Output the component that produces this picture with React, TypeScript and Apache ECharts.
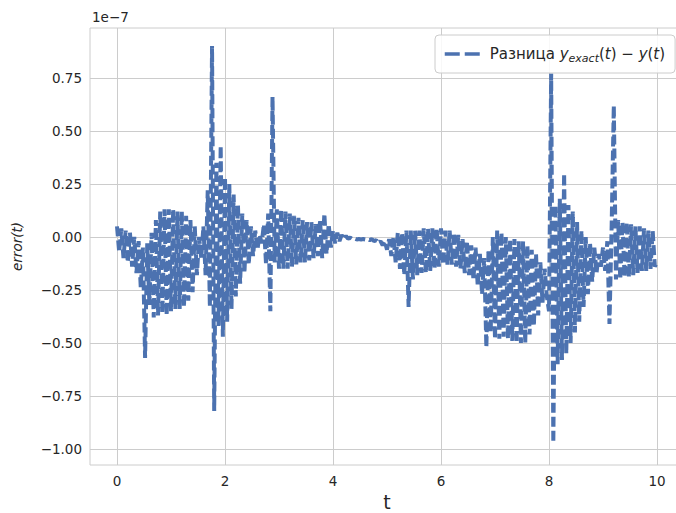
import { useEffect, useRef } from "react";
import * as echarts from "echarts";

// Sampling of t: first sample and step between samples
const T_START = 0;
const T_STEP = 0.04;

// error(t) = y_exact(t) - y(t), in units of 1e-7, ten samples per block of 0.4 in t
const errorFrom0_0 = [0.05, -0.07, 0.04, -0.1, 0.03, -0.12, 0.02, -0.14, 0.0, -0.17];
const errorFrom0_4 = [-0.02, -0.24, -0.05, -0.57, -0.03, -0.32, 0.02, -0.38, 0.08, -0.37];
const errorFrom0_8 = [0.12, -0.36, 0.13, -0.37, 0.13, -0.35, 0.13, -0.34, 0.12, -0.34];
const errorFrom1_2 = [0.12, -0.33, 0.1, -0.3, 0.08, -0.26, 0.05, -0.18, 0.0, -0.1];
const errorFrom1_6 = [0.05, -0.18, 0.22, -0.33, 0.9, -0.82, 0.35, -0.42, 0.43, -0.47];
const errorFrom2_0 = [0.28, -0.4, 0.25, -0.34, 0.2, -0.28, 0.15, -0.22, 0.11, -0.17];
const errorFrom2_4 = [0.08, -0.13, 0.05, -0.09, 0.03, -0.06, 0.01, -0.03, 0.06, -0.13];
const errorFrom2_8 = [0.11, -0.35, 0.66, -0.12, 0.13, -0.15, 0.13, -0.15, 0.12, -0.15];
const errorFrom3_2 = [0.11, -0.14, 0.1, -0.13, 0.09, -0.12, 0.08, -0.12, 0.07, -0.11];
const errorFrom3_6 = [0.07, -0.1, 0.06, -0.09, 0.08, -0.1, 0.11, -0.08, 0.06, -0.05];
const errorFrom4_0 = [0.03, -0.03, 0.02, -0.02, 0.01, -0.01, 0.005, -0.008, -0.003, -0.01];
const errorFrom4_4 = [-0.008, -0.012, -0.01, -0.012, -0.01, -0.012, -0.01, -0.015, -0.01, -0.02];
const errorFrom4_8 = [-0.015, -0.03, -0.02, -0.04, -0.02, -0.06, -0.01, -0.09, 0.0, -0.12];
const errorFrom5_2 = [0.02, -0.15, 0.02, -0.18, 0.03, -0.33, 0.03, -0.2, 0.03, -0.18];
const errorFrom5_6 = [0.03, -0.17, 0.04, -0.17, 0.04, -0.16, 0.04, -0.15, 0.04, -0.14];
const errorFrom6_0 = [0.04, -0.13, 0.03, -0.13, 0.03, -0.13, 0.02, -0.14, 0.01, -0.15];
const errorFrom6_4 = [-0.01, -0.17, -0.02, -0.18, -0.04, -0.2, -0.05, -0.23, -0.08, -0.27];
const errorFrom6_8 = [-0.1, -0.52, -0.06, -0.45, 0.0, -0.48, 0.03, -0.48, 0.02, -0.47];
const errorFrom7_2 = [0.0, -0.48, -0.01, -0.49, -0.01, -0.5, -0.02, -0.5, -0.02, -0.5];
const errorFrom7_6 = [-0.04, -0.46, -0.06, -0.42, -0.08, -0.37, -0.12, -0.31, -0.15, -0.28];
const errorFrom8_0 = [-0.35, 0.77, -0.97, 0.15, -0.6, 0.18, -0.58, 0.3, -0.55, 0.15];
const errorFrom8_4 = [-0.5, 0.12, -0.45, 0.07, -0.4, 0.03, -0.33, 0.0, -0.27, -0.03];
const errorFrom8_8 = [-0.21, -0.05, -0.17, -0.08, -0.14, -0.05, -0.16, -0.02, -0.41, 0.05];
const errorFrom9_2 = [0.62, -0.2, 0.08, -0.2, 0.07, -0.19, 0.07, -0.19, 0.06, -0.18];
const errorFrom9_6 = [0.05, -0.17, 0.05, -0.16, 0.04, -0.16, 0.03, -0.15, 0.03, -0.14];
const errorAt10 = [-0.12];

const errorValues = [
  ...errorFrom0_0, ...errorFrom0_4, ...errorFrom0_8, ...errorFrom1_2, ...errorFrom1_6,
  ...errorFrom2_0, ...errorFrom2_4, ...errorFrom2_8, ...errorFrom3_2, ...errorFrom3_6,
  ...errorFrom4_0, ...errorFrom4_4, ...errorFrom4_8, ...errorFrom5_2, ...errorFrom5_6,
  ...errorFrom6_0, ...errorFrom6_4, ...errorFrom6_8, ...errorFrom7_2, ...errorFrom7_6,
  ...errorFrom8_0, ...errorFrom8_4, ...errorFrom8_8, ...errorFrom9_2, ...errorFrom9_6,
  ...errorAt10,
];

const xTicks = [0, 2, 4, 6, 8, 10];
const yTicks = [-1, -0.75, -0.5, -0.25, 0, 0.25, 0.5, 0.75];
const OFFSET_TEXT = "1e\u22127";
const SERIES_NAME = "Разница y_exact(t) − y(t)";

const FONT = "DejaVu Sans";
const TEXT_COLOR = "#262626";
const GRID_COLOR = "#cccccc";
const LINE_COLOR = "#4c72b0";

// The axes run a few pixels past the right edge of the visible page
const VIEW_W = 676;
const VIEW_H = 513;
const CHART_W = 692;

const fmtMinus = (s: string) => s.replace("-", "\u2212");

export default function App() {
  const ref = useRef<HTMLDivElement>(null);

  useEffect(() => {
    if (!ref.current) return;
    const chart = echarts.init(ref.current, undefined, { renderer: "svg" });

    const data = errorValues.map((v, i) => [
      Number((T_START + i * T_STEP).toFixed(2)),
      v,
    ]);

    chart.setOption({
      animation: false,
      backgroundColor: "#ffffff",
      textStyle: { fontFamily: FONT },
      grid: {
        left: 90,
        right: CHART_W - 684,
        top: 28,
        bottom: 48,
        outerBoundsMode: "none",
        containLabel: false,
        show: true,
        borderColor: GRID_COLOR,
        borderWidth: 1,
        backgroundColor: "transparent",
      },
      xAxis: {
        type: "value",
        min: -0.5,
        max: 10.5,
        name: "t",
        nameLocation: "middle",
        nameGap: 22,
        nameTextStyle: {
          fontSize: 19,
          lineHeight: 17,
          color: TEXT_COLOR,
          fontFamily: FONT,
        },
        axisLine: { show: false },
        axisTick: { show: false, customValues: xTicks },
        axisLabel: {
          customValues: xTicks,
          color: TEXT_COLOR,
          fontSize: 13.5,
          fontFamily: FONT,
          margin: 9,
          formatter: (v: number) => fmtMinus(String(v)),
        },
        splitLine: { show: true, lineStyle: { color: GRID_COLOR, width: 1 } },
      },
      yAxis: {
        type: "value",
        min: -1.075,
        max: 0.985,
        name: "error(t)",
        nameLocation: "middle",
        nameRotate: 90,
        nameGap: 66,
        nameTextStyle: {
          fontSize: 13.5,
          fontStyle: "italic",
          color: TEXT_COLOR,
          fontFamily: FONT,
        },
        axisLine: { show: false },
        axisTick: { show: false, customValues: yTicks },
        axisLabel: {
          customValues: yTicks,
          color: TEXT_COLOR,
          fontSize: 13.5,
          fontFamily: FONT,
          margin: 8,
          formatter: (v: number) => fmtMinus(v.toFixed(2)),
        },
        splitLine: { show: true, lineStyle: { color: GRID_COLOR, width: 1 } },
      },
      legend: {
        left: 435,
        top: 35,
        padding: [9, 10, 9, 8],
        itemWidth: 40,
        itemHeight: 14,
        borderColor: GRID_COLOR,
        borderWidth: 1,
        borderRadius: 4,
        backgroundColor: "rgba(255,255,255,0.85)",
        data: [SERIES_NAME],
        itemStyle: { opacity: 0 },
        lineStyle: { type: [15, 5], width: 3.5, color: LINE_COLOR },
        formatter: () =>
          "Разница {i|y}{s|exact}({i|t}) \u2212 {i|y}({i|t})",
        textStyle: {
          fontSize: 15,
          color: TEXT_COLOR,
          fontFamily: FONT,
          lineHeight: 20,
          rich: {
            i: { fontSize: 15, fontStyle: "italic", color: TEXT_COLOR, fontFamily: FONT, lineHeight: 20 },
            s: {
              fontSize: 11,
              fontStyle: "italic",
              color: TEXT_COLOR,
              fontFamily: FONT,
              lineHeight: 12,
              verticalAlign: "bottom",
            },
          },
        },
      },
      graphic: [
        {
          type: "text",
          left: 92,
          top: 10,
          style: {
            text: OFFSET_TEXT,
            fontSize: 13.5,
            fontFamily: FONT,
            fill: TEXT_COLOR,
          },
        },
      ],
      series: [
        {
          name: SERIES_NAME,
          type: "line",
          data,
          symbol: "none",
          showSymbol: false,
          clip: true,
          color: LINE_COLOR,
          lineStyle: { color: LINE_COLOR, width: 4, type: [10, 4] },
          emphasis: { disabled: true },
        },
      ],
    });

    return () => chart.dispose();
  }, []);

  return (
    <div
      style={{
        position: "fixed",
        left: 0,
        top: 0,
        width: VIEW_W,
        height: VIEW_H,
        overflow: "hidden",
      }}
    >
      <div ref={ref} style={{ width: CHART_W, height: VIEW_H }} />
    </div>
  );
}
